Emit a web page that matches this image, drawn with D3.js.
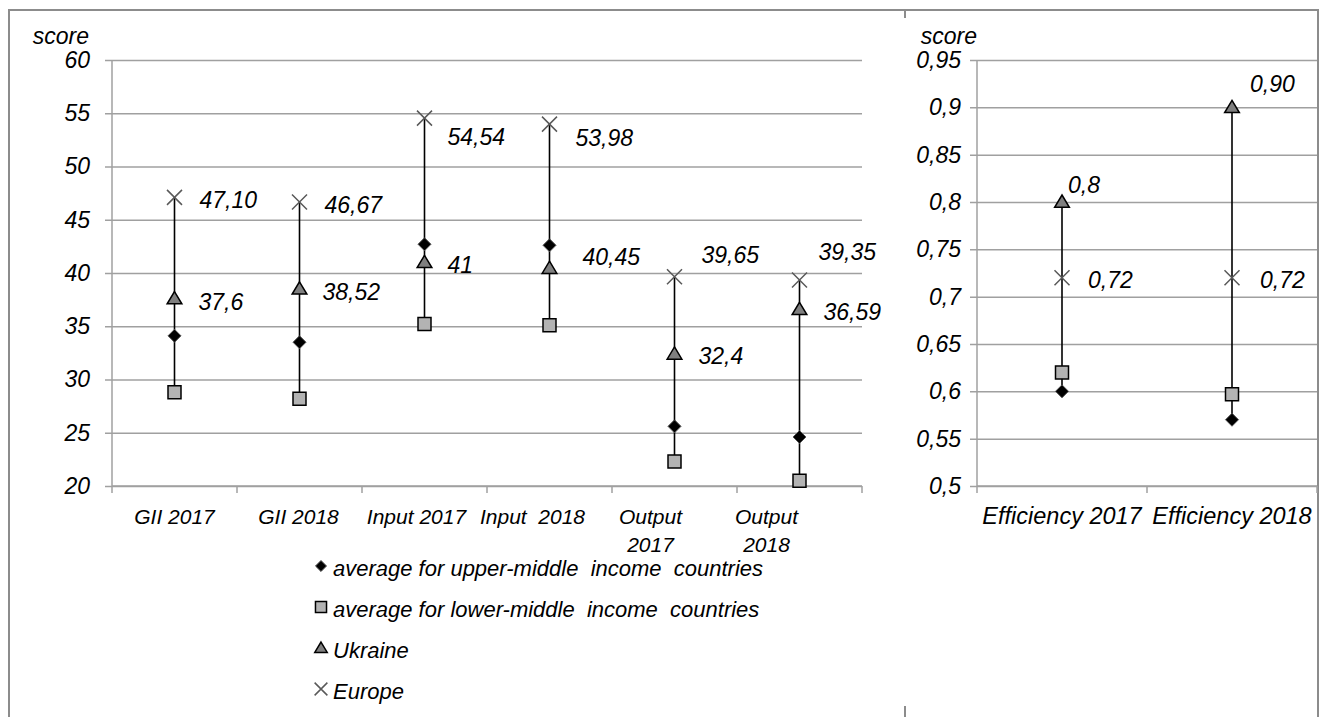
<!DOCTYPE html>
<html>
<head>
<meta charset="utf-8">
<script src="https://cdn.jsdelivr.net/npm/d3@7"></script>
<style>
  body { margin: 0; background: #fff; }
  svg { display: block; }
  text { font-family: "Liberation Sans", Arial, sans-serif; font-style: italic; white-space: pre; }
</style>
</head>
<body>
<div id="chart"></div>
<script>
// --- data: left panel (index scores) ---
const categories = ["GII 2017", "GII 2018", "Input 2017", "Input  2018", "Output\n2017", "Output\n2018"];
const upperMiddle = [34.1, 33.5, 42.7, 42.6, 25.6, 24.6];
const lowerMiddle = [28.8, 28.2, 35.2, 35.1, 22.3, 20.5];
const ukraine = [37.6, 38.52, 41, 40.45, 32.4, 36.59];
const europe = [47.10, 46.67, 54.54, 53.98, 39.65, 39.35];
const ukraineDecimals = [1, 2, 0, 2, 1, 2];
const europeDecimals = [2, 2, 2, 2, 2, 2];
const leftTicks = [20, 25, 30, 35, 40, 45, 50, 55, 60];

// --- data: right panel (efficiency ratio) ---
const effCategories = ["Efficiency 2017", "Efficiency 2018"];
const effUpperMiddle = [0.60, 0.57];
const effLowerMiddle = [0.62, 0.597];
const effUkraine = [0.8, 0.90];
const effEurope = [0.72, 0.72];
const effUkraineDecimals = [1, 2];
const effEuropeDecimals = [2, 2];
const rightTicks = [0.5, 0.55, 0.6, 0.65, 0.7, 0.75, 0.8, 0.85, 0.9, 0.95];

const legendLabels = [
  "average for upper-middle  income  countries",
  "average for lower-middle  income  countries",
  "Ukraine",
  "Europe"
];

// --- layout (label nudges, Excel placed these by hand) ---
const catLabelShift = [0, -1, -8, -17, -24, -33];
const ukraineLabelOffset = [[24, 11], [23, 11], [23, 11], [33, -3], [24, 10], [24, 11]];
const europeLabelOffset = [[25, 11], [25, 11], [23, 27], [26, 22], [27, -14], [19, -20]];
const effUkraineLabelOffset = [[6, -9], [18, -15]];
const effEuropeLabelOffset = [[26, 10], [28, 10]];

const width = 1325, height = 717;
const fontSize = 23;
const gridColor = "#a0a0a0";

const svg = d3.select("#chart").append("svg")
  .attr("width", width)
  .attr("height", height);

// marker shapes, size = half extent
const symDiamond = { draw(ctx, r) { ctx.moveTo(0, -r); ctx.lineTo(r, 0); ctx.lineTo(0, r); ctx.lineTo(-r, 0); ctx.closePath(); } };
const symSquare = { draw(ctx, r) { ctx.rect(-r, -r, 2 * r, 2 * r); } };
const symTriangle = { draw(ctx, r) { ctx.moveTo(0, -r); ctx.lineTo(r * 1.05, r * 0.75); ctx.lineTo(-r * 1.05, r * 0.75); ctx.closePath(); } };
const symCross = { draw(ctx, r) { ctx.moveTo(-r, -r); ctx.lineTo(r, r); ctx.moveTo(r, -r); ctx.lineTo(-r, r); } };

const markerStyles = [
  { type: symDiamond, r: 6.5, fill: "#000", stroke: "#555", sw: 1 },
  { type: symSquare, r: 6.5, fill: "#b3b3b3", stroke: "#000", sw: 1.5 },
  { type: symTriangle, r: 7, fill: "#7f7f7f", stroke: "#000", sw: 1.5 },
  { type: symCross, r: 7.5, fill: "none", stroke: "#595959", sw: 1.5 }
];

function marker(g, style, x, y) {
  g.append("path")
    .attr("transform", `translate(${x},${y})`)
    .attr("d", d3.symbol().type(style.type).size(style.r)())
    .attr("fill", style.fill)
    .attr("stroke", style.stroke)
    .attr("stroke-width", style.sw);
}

const commaFmt = (v, dec) => v.toFixed(dec).replace(".", ",");

// outer frame
svg.append("path")
  .attr("d", "M9,717V10H1318V717")
  .attr("fill", "none")
  .attr("stroke", "#8c8c8c")
  .attr("stroke-width", 2);
svg.append("line").attr("x1", 905).attr("x2", 905).attr("y1", 10).attr("y2", 18)
  .attr("stroke", "#8c8c8c").attr("stroke-width", 2);
svg.append("line").attr("x1", 905).attr("x2", 905).attr("y1", 706).attr("y2", 717)
  .attr("stroke", "#8c8c8c").attr("stroke-width", 2);

function drawPanel(opts) {
  const { cats, series, ticks, xRange, yRange, tickFmt, labels, shifts, scoreX, tickGap, catFont } = opts;
  const x = d3.scaleBand().domain(cats).range(xRange).padding(0);
  const y = d3.scaleLinear().domain([ticks[0], ticks[ticks.length - 1]]).range(yRange);
  const g = svg.append("g");
  const innerW = xRange[1] - xRange[0];

  // gridlines + y axis
  const yAxis = d3.axisLeft(y).tickValues(ticks).tickSize(-innerW).tickSizeOuter(0).tickFormat(tickFmt);
  const ya = g.append("g").attr("transform", `translate(${xRange[0]},0)`).call(yAxis);
  ya.select(".domain").remove();
  ya.selectAll(".tick line").attr("x1", -7).attr("stroke", gridColor).attr("stroke-width", 1.5);
  ya.selectAll(".tick text")
    .attr("x", -tickGap)
    .attr("font-size", fontSize)
    .attr("fill", "#000");
  g.append("line")
    .attr("x1", xRange[0]).attr("x2", xRange[0])
    .attr("y1", yRange[1]).attr("y2", yRange[0])
    .attr("stroke", gridColor).attr("stroke-width", 1.5);

  // x axis
  const xa = g.append("g").attr("transform", `translate(0,${yRange[0]})`);
  xa.append("line").attr("x1", xRange[0]).attr("x2", xRange[1])
    .attr("stroke", gridColor).attr("stroke-width", 1.5);
  const bounds = cats.map(c => x(c)).concat([xRange[1]]);
  xa.selectAll(".xt").data(bounds).join("line")
    .attr("class", "xt")
    .attr("x1", d => d).attr("x2", d => d)
    .attr("y1", 0).attr("y2", 7)
    .attr("stroke", gridColor).attr("stroke-width", 1.5);
  cats.forEach((c, i) => {
    const t = xa.append("text")
      .attr("text-anchor", "middle")
      .attr("font-size", catFont)
      .attr("fill", "#000");
    c.split("\n").forEach((line, j) => {
      t.append("tspan")
        .attr("x", x(c) + x.bandwidth() / 2 + (shifts ? shifts[i] : 0))
        .attr("y", 38 + j * 28)
        .text(line);
    });
  });

  // "score" caption
  g.append("text")
    .attr("x", scoreX).attr("y", 44)
    .attr("text-anchor", "end")
    .attr("font-size", fontSize)
    .attr("fill", "#000")
    .text("score");

  // high-low lines
  cats.forEach((c, i) => {
    const vals = series.map(s => s[i]);
    const cx = x(c) + x.bandwidth() / 2;
    g.append("line")
      .attr("x1", cx).attr("x2", cx)
      .attr("y1", y(d3.min(vals))).attr("y2", y(d3.max(vals)))
      .attr("stroke", "#000").attr("stroke-width", 1.6);
  });

  // markers
  series.forEach((s, k) => {
    s.forEach((v, i) => {
      marker(g, markerStyles[k], x(cats[i]) + x.bandwidth() / 2, y(v));
    });
  });

  // data labels
  labels.forEach(l => {
    l.values.forEach((v, i) => {
      g.append("text")
        .attr("x", x(cats[i]) + x.bandwidth() / 2 + l.offset[i][0])
        .attr("y", y(v) + l.offset[i][1])
        .attr("font-size", fontSize)
        .attr("fill", "#000")
        .text(commaFmt(v, l.decimals[i]));
    });
  });
}

drawPanel({
  cats: categories,
  series: [upperMiddle, lowerMiddle, ukraine, europe],
  ticks: leftTicks,
  xRange: [112, 862],
  yRange: [486, 60],
  tickFmt: d => String(d),
  labels: [
    { values: ukraine, decimals: ukraineDecimals, offset: ukraineLabelOffset },
    { values: europe, decimals: europeDecimals, offset: europeLabelOffset }
  ],
  shifts: catLabelShift,
  scoreX: 89,
  tickGap: 22,
  catFont: 21
});

drawPanel({
  cats: effCategories,
  series: [effUpperMiddle, effLowerMiddle, effUkraine, effEurope],
  ticks: rightTicks,
  xRange: [977, 1317],
  yRange: [486, 60],
  tickFmt: d => String(+d.toFixed(2)).replace(".", ","),
  labels: [
    { values: effUkraine, decimals: effUkraineDecimals, offset: effUkraineLabelOffset },
    { values: effEurope, decimals: effEuropeDecimals, offset: effEuropeLabelOffset }
  ],
  shifts: null,
  scoreX: 977,
  tickGap: 16,
  catFont: 23.5
});

// legend
const legend = svg.append("g").attr("transform", "translate(321, 576)");
legendLabels.forEach((lab, i) => {
  const row = legend.append("g").attr("transform", `translate(0, ${i * 41})`);
  const st = Object.assign({}, markerStyles[i], { r: markerStyles[i].r * 0.85 });
  marker(row, st, 0, -10);
  row.append("text")
    .attr("x", 12)
    .attr("y", 0)
    .attr("font-size", 22)
    .attr("fill", "#000")
    .text(lab);
});
</script>
</body>
</html>
